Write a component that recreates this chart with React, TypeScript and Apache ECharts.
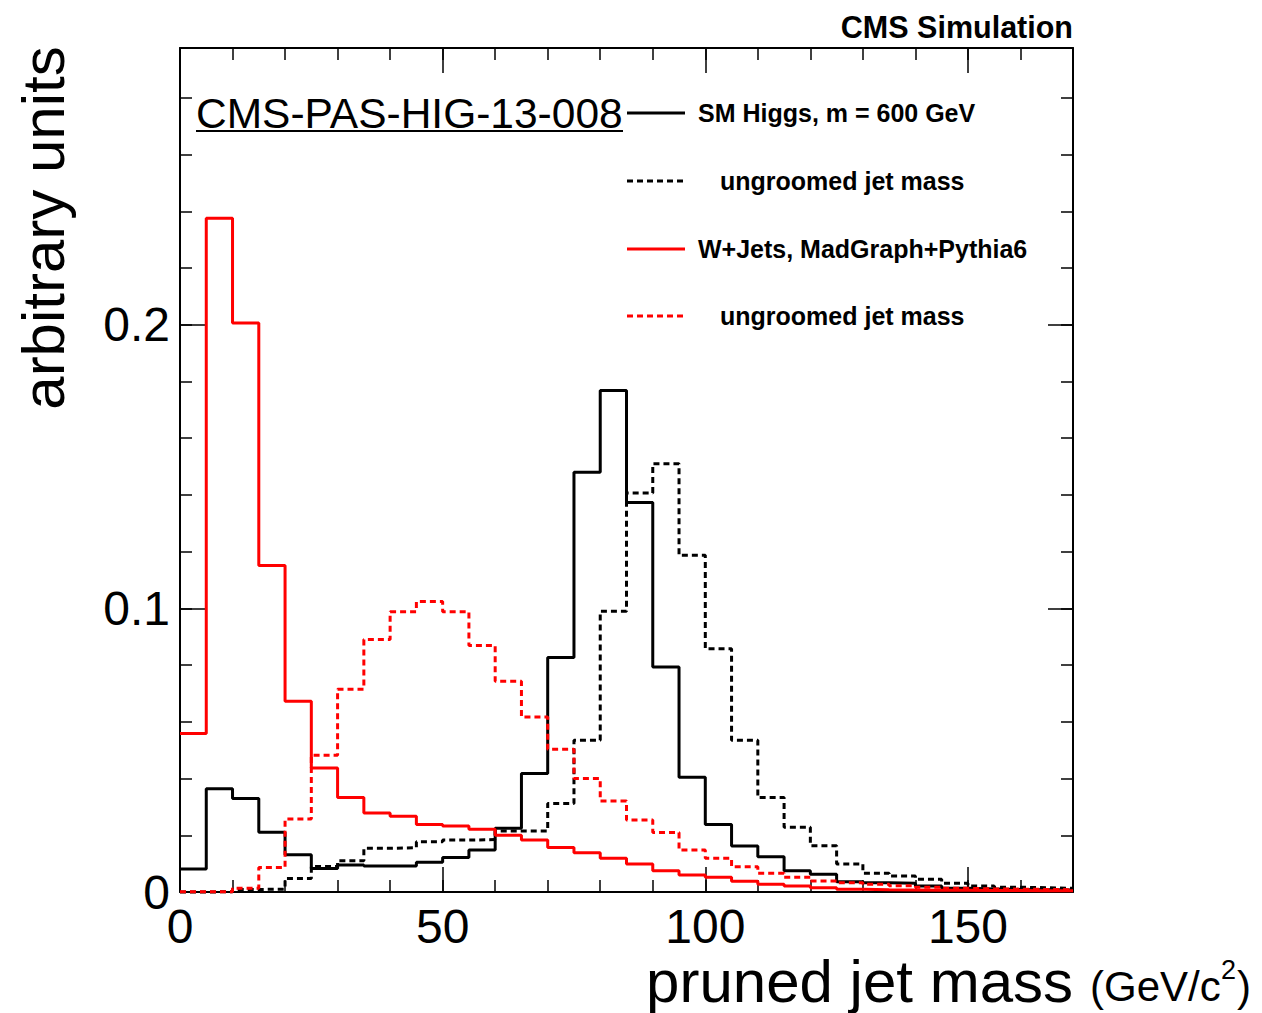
import React, { useEffect, useRef } from "react";
import * as echarts from "echarts";

// ---- data (histograms, 5 GeV bins from 0 to 170 GeV) ----
const BIN_WIDTH = 5;
const X_MIN = 0;
const X_MAX = 170;
const Y_MAX = 0.2976;

const higgsPruned = [
  0.0081, 0.0364, 0.033, 0.0211, 0.0131, 0.0083, 0.0095, 0.0092, 0.0092, 0.0105,
  0.0122, 0.0148, 0.0225, 0.0418, 0.0827, 0.148, 0.1768, 0.1373, 0.0793, 0.0405,
  0.0238, 0.0162, 0.0124, 0.0075, 0.0063, 0.0036, 0.0033, 0.0031, 0.0021, 0.0013,
  0.0011, 0.0009, 0.0008, 0.0007,
];
const higgsUngroomed = [
  0.0, 0.0001, 0.0009, 0.001, 0.0048, 0.009, 0.011, 0.0154, 0.0156, 0.0177,
  0.0183, 0.0185, 0.0215, 0.0215, 0.0312, 0.0535, 0.099, 0.1407, 0.151, 0.1187,
  0.0858, 0.0535, 0.0333, 0.0228, 0.0163, 0.0099, 0.0066, 0.0056, 0.0045, 0.0031,
  0.0021, 0.0017, 0.0015, 0.0013,
];
const wjetsPruned = [
  0.0559, 0.2376, 0.2006, 0.1151, 0.0673, 0.0437, 0.0333, 0.0279, 0.0267, 0.0238,
  0.0233, 0.0221, 0.02, 0.0183, 0.0157, 0.0138, 0.0119, 0.0099, 0.0075, 0.006,
  0.0052, 0.0038, 0.0027, 0.0021, 0.0015, 0.001, 0.0008, 0.0007, 0.0006, 0.0006,
  0.0005, 0.0005, 0.0004, 0.0004,
];
const wjetsUngroomed = [
  0.0001, 0.0001, 0.0013, 0.0086, 0.0257, 0.0482, 0.0715, 0.089, 0.0988, 0.1024,
  0.0988, 0.0869, 0.0743, 0.0617, 0.0503, 0.04, 0.0321, 0.0254, 0.021, 0.0148,
  0.0119, 0.0089, 0.0066, 0.0052, 0.0039, 0.0033, 0.0027, 0.0022, 0.0017, 0.0013,
  0.0011, 0.001, 0.0009, 0.0008,
];

const legendLabels = [
  "SM Higgs, m = 600 GeV",
  "ungroomed jet mass",
  "W+Jets, MadGraph+Pythia6",
  "ungroomed jet mass",
];

const FONT = '"Liberation Sans", Arial, Helvetica, sans-serif';

function toSteps(values: number[]) {
  const pts = values.map((v, i) => [X_MIN + i * BIN_WIDTH, v]);
  pts.push([X_MAX, values[values.length - 1]]);
  return pts;
}

function xAxisDef(position: string, interval: number, major: boolean, labels: boolean) {
  return {
    type: "value",
    position,
    min: X_MIN,
    max: X_MAX,
    interval,
    axisLine: { show: major, onZero: false, lineStyle: { color: "#000", width: 2 } },
    axisTick: { show: true, inside: true, length: major ? 25 : 12, lineStyle: { color: "#000", width: 1.5 } },
    axisLabel: {
      show: labels,
      showMaxLabel: false,
      fontSize: 48,
      lineHeight: 40,
      fontFamily: FONT,
      color: "#000",
      margin: 14,
    },
    splitLine: { show: false },
  };
}

function yAxisDef(position: string, interval: number, major: boolean, labels: boolean) {
  return {
    type: "value",
    position,
    min: 0,
    max: Y_MAX,
    interval,
    axisLine: { show: major, onZero: false, lineStyle: { color: "#000", width: 2 } },
    axisTick: { show: true, inside: true, length: major ? 25 : 12, lineStyle: { color: "#000", width: 1.5 } },
    axisLabel: {
      show: labels,
      showMaxLabel: false,
      fontSize: 48,
      lineHeight: 40,
      fontFamily: FONT,
      color: "#000",
      margin: 10,
      formatter: (v: number) => (Math.abs(v - Math.round(v * 10) / 10) < 1e-9 ? String(Math.round(v * 10) / 10) : ""),
    },
    splitLine: { show: false },
  };
}

function histSeries(name: string, values: number[], color: string, dashed: boolean) {
  return {
    name,
    type: "line",
    step: "end",
    xAxisIndex: 0,
    yAxisIndex: 0,
    data: toSteps(values),
    showSymbol: false,
    symbol: "none",
    clip: false,
    lineStyle: { color, width: 3, type: dashed ? [6, 4] : "solid" },
  };
}

function textEl(text: string, x: number, y: number, font: string, align: string) {
  return {
    type: "text",
    style: {
      text,
      x,
      y,
      fill: "#000",
      font,
      textAlign: align,
      textVerticalAlign: "middle",
      align,
      verticalAlign: "middle",
    },
  };
}

function legendRow(y: number, color: string, dashed: boolean, label: string, textX: number) {
  return [
    {
      type: "line",
      shape: { x1: 627, y1: y, x2: 685, y2: y },
      style: { stroke: color, lineWidth: 3, lineDash: dashed ? [6, 4] : null },
    },
    textEl(label, textX, y, `bold 25px ${FONT}`, "left"),
  ];
}

export default function App() {
  const ref = useRef<HTMLDivElement>(null);

  useEffect(() => {
    if (!ref.current) return;
    const chart = echarts.init(ref.current, null, { renderer: "svg" });

    const option: any = {
      animation: false,
      backgroundColor: "#fff",
      grid: { left: 180, top: 48, width: 893, height: 844, containLabel: false },
      xAxis: [
        xAxisDef("bottom", 50, true, true),
        xAxisDef("bottom", 10, false, false),
        xAxisDef("top", 50, true, false),
        xAxisDef("top", 10, false, false),
      ],
      yAxis: [
        yAxisDef("left", 0.1, true, true),
        yAxisDef("left", 0.02, false, false),
        yAxisDef("right", 0.1, true, false),
        yAxisDef("right", 0.02, false, false),
      ],
      series: [
        histSeries("SM Higgs, m = 600 GeV", higgsPruned, "#000", false),
        histSeries("SM Higgs ungroomed jet mass", higgsUngroomed, "#000", true),
        histSeries("W+Jets ungroomed jet mass", wjetsUngroomed, "#ff0000", true),
        histSeries("W+Jets, MadGraph+Pythia6", wjetsPruned, "#ff0000", false),
      ],
      graphic: [
        textEl("CMS Simulation", 1073, 27, `bold 30.5px ${FONT}`, "right"),
        textEl("CMS-PAS-HIG-13-008", 196, 113, `42.5px ${FONT}`, "left"),
        {
          type: "line",
          shape: { x1: 196, y1: 131, x2: 623, y2: 131 },
          style: { stroke: "#000", lineWidth: 2 },
        },
        ...legendRow(113, "#000", false, legendLabels[0], 698),
        ...legendRow(181, "#000", true, legendLabels[1], 720),
        ...legendRow(249, "#ff0000", false, legendLabels[2], 698),
        ...legendRow(316, "#ff0000", true, legendLabels[3], 720),
        {
          type: "text",
          x: 43,
          y: 228,
          rotation: Math.PI / 2,
          style: {
            text: "arbitrary units",
            x: 0,
            y: 0,
            fill: "#000",
            font: `60px ${FONT}`,
            textAlign: "center",
            textVerticalAlign: "middle",
            align: "center",
            verticalAlign: "middle",
          },
        },
        textEl("pruned jet mass", 1073, 981, `60px ${FONT}`, "right"),
        textEl("(GeV/c", 1090, 986, `42px ${FONT}`, "left"),
        textEl("2", 1221, 970, `27px ${FONT}`, "left"),
        textEl(")", 1237, 986, `42px ${FONT}`, "left"),
      ],
    };

    chart.setOption(option);
    return () => chart.dispose();
  }, []);

  return (
    <div
      ref={ref}
      style={{ position: "fixed", left: 0, top: 0, width: 1262, height: 1013, background: "#fff" }}
    />
  );
}
